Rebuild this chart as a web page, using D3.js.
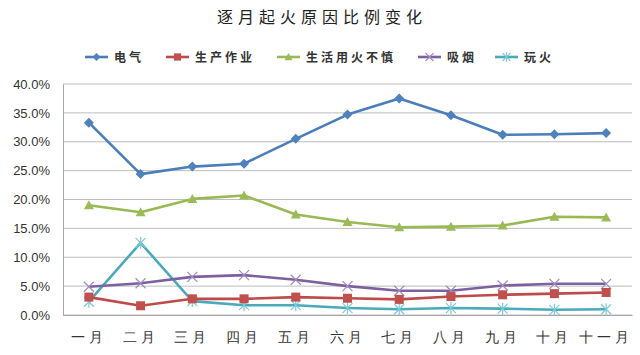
<!DOCTYPE html>
<html>
<head>
<meta charset="utf-8">
<script src="https://cdn.jsdelivr.net/npm/d3@7"></script>
<style>
  body { margin: 0; background: #fff; }
  svg { display: block; font-family: "Noto Sans CJK SC", "Liberation Sans", sans-serif; }
</style>
</head>
<body>
<div id="chart"></div>
<script>
// Data
const months = ["一月", "二月", "三月", "四月", "五月", "六月", "七月", "八月", "九月", "十月", "十一月"]
const seriesNames = ["电气", "生产作业", "生活用火不慎", "吸烟", "玩火"]
const electric = [33.3, 24.4, 25.7, 26.2, 30.5, 34.7, 37.5, 34.6, 31.2, 31.3, 31.5]
const production = [3.1, 1.6, 2.8, 2.8, 3.1, 2.9, 2.7, 3.2, 3.5, 3.7, 3.9]
const careless = [19.0, 17.8, 20.1, 20.7, 17.4, 16.1, 15.2, 15.3, 15.5, 17.0, 16.9]
const smoking = [4.9, 5.5, 6.6, 6.9, 6.1, 5.0, 4.2, 4.2, 5.1, 5.4, 5.4]
const playing = [2.3, 12.5, 2.4, 1.7, 1.7, 1.2, 1.0, 1.2, 1.1, 0.9, 1.0]
const yTicks = [0, 5, 10, 15, 20, 25, 30, 35, 40]

const allValues = [electric, production, careless, smoking, playing]
const colors = ["#4a7ebb", "#be4b48", "#98b954", "#7d60a0", "#4aaabb"]
const markerColors = ["#4f81bd", "#c0504d", "#9bbb59", "#a08cc0", "#7fcad8"]
const markerTypes = ["diamond", "square", "triangle", "x", "star"]

const width = 640, height = 355
const margin = { left: 63, right: 8, top: 84, bottom: 40 }

const svg = d3.select("#chart").append("svg")
  .attr("width", width)
  .attr("height", height)

// Scales
const xScale = d3.scaleBand()
  .domain(months)
  .range([margin.left, 632])

const yScale = d3.scaleLinear()
  .domain([0, 40])
  .range([315, 84])

// Title
svg.append("text")
  .attr("x", 322)
  .attr("y", 23)
  .attr("text-anchor", "middle")
  .attr("font-size", 16)
  .attr("letter-spacing", 5)
  .attr("fill", "#222")
  .text("逐月起火原因比例变化")

// Gridlines
svg.append("g")
  .selectAll("line")
  .data(yTicks)
  .enter()
  .append("line")
  .attr("x1", margin.left)
  .attr("x2", 632)
  .attr("y1", d => yScale(d))
  .attr("y2", d => yScale(d))
  .attr("stroke", "#bdbdbd")
  .attr("stroke-width", 1)

// y axis
const yAxis = d3.axisLeft(yScale).tickValues(yTicks).tickSize(0).tickPadding(13)
  .tickFormat(d => d.toFixed(1) + "%")
svg.append("g")
  .attr("transform", `translate(${margin.left},0)`)
  .call(yAxis)
  .call(g => g.select(".domain").attr("stroke", "#a6a6a6"))
  .call(g => g.selectAll("text").attr("font-size", 13).attr("fill", "#333")
    .attr("font-family", "'Liberation Sans', Arial, sans-serif"))

// x axis
const xAxis = d3.axisBottom(xScale).tickSize(0).tickPadding(17)
svg.append("g")
  .attr("transform", "translate(0,315)")
  .call(xAxis)
  .call(g => g.select(".domain").attr("stroke", "#a6a6a6"))
  .call(g => g.selectAll("text").attr("font-size", 14).attr("fill", "#333")
    .attr("letter-spacing", 4))

// Marker shapes
function drawMarker(g, type, color, size) {
  const s = size
  if (type === "diamond") {
    g.append("path").attr("d", `M0,${-s}L${s},0L0,${s}L${-s},0Z`).attr("fill", color)
  } else if (type === "square") {
    g.append("rect").attr("x", -s * 0.9).attr("y", -s * 0.9).attr("width", s * 1.8).attr("height", s * 1.8)
      .attr("fill", color)
  } else if (type === "triangle") {
    g.append("path").attr("d", `M0,${-s}L${s},${s * 0.8}L${-s},${s * 0.8}Z`).attr("fill", color)
  } else if (type === "x") {
    g.append("path").attr("d", `M${-s},${-s}L${s},${s}M${-s},${s}L${s},${-s}`)
      .attr("stroke", color).attr("stroke-width", 1.2).attr("fill", "none")
  } else if (type === "star") {
    g.append("path").attr("d", `M${-s},${-s}L${s},${s}M${-s},${s}L${s},${-s}M0,${-s * 1.2}L0,${s * 1.2}`)
      .attr("stroke", color).attr("stroke-width", 1.2).attr("fill", "none")
  }
}

const line = d3.line()
  .x((d, i) => xScale(months[i]) + xScale.bandwidth() / 2)
  .y(d => yScale(d))

// Draw series (last series first so 电气 sits on top)
const order = [4, 3, 2, 1, 0]
order.forEach(k => {
  const g = svg.append("g")
  g.append("path")
    .datum(allValues[k])
    .attr("d", line)
    .attr("fill", "none")
    .attr("stroke", colors[k])
    .attr("stroke-width", 2.6)
    .attr("stroke-linejoin", "round")
  allValues[k].forEach((v, i) => {
    const m = g.append("g")
      .attr("transform", `translate(${xScale(months[i]) + xScale.bandwidth() / 2},${yScale(v)})`)
    drawMarker(m, markerTypes[k], markerColors[k], k === 1 ? 5 : (k >= 3 ? 5 : 5))
  })
})

// Legend
const legendX = [85, 166, 277, 418, 495]
const legend = svg.append("g").attr("transform", "translate(0,57)")
seriesNames.forEach((name, k) => {
  const item = legend.append("g").attr("transform", `translate(${legendX[k]},0)`)
  item.append("line")
    .attr("x1", 0).attr("x2", 23)
    .attr("stroke", colors[k]).attr("stroke-width", 2.6)
  const m = item.append("g").attr("transform", "translate(11.5,0)")
  drawMarker(m, markerTypes[k], markerColors[k], 4)
  item.append("text")
    .attr("x", 29)
    .attr("y", 4.5)
    .attr("font-size", 12)
    .attr("font-weight", "bold")
    .attr("letter-spacing", 3)
    .attr("fill", "#333")
    .text(name)
})
</script>
</body>
</html>
